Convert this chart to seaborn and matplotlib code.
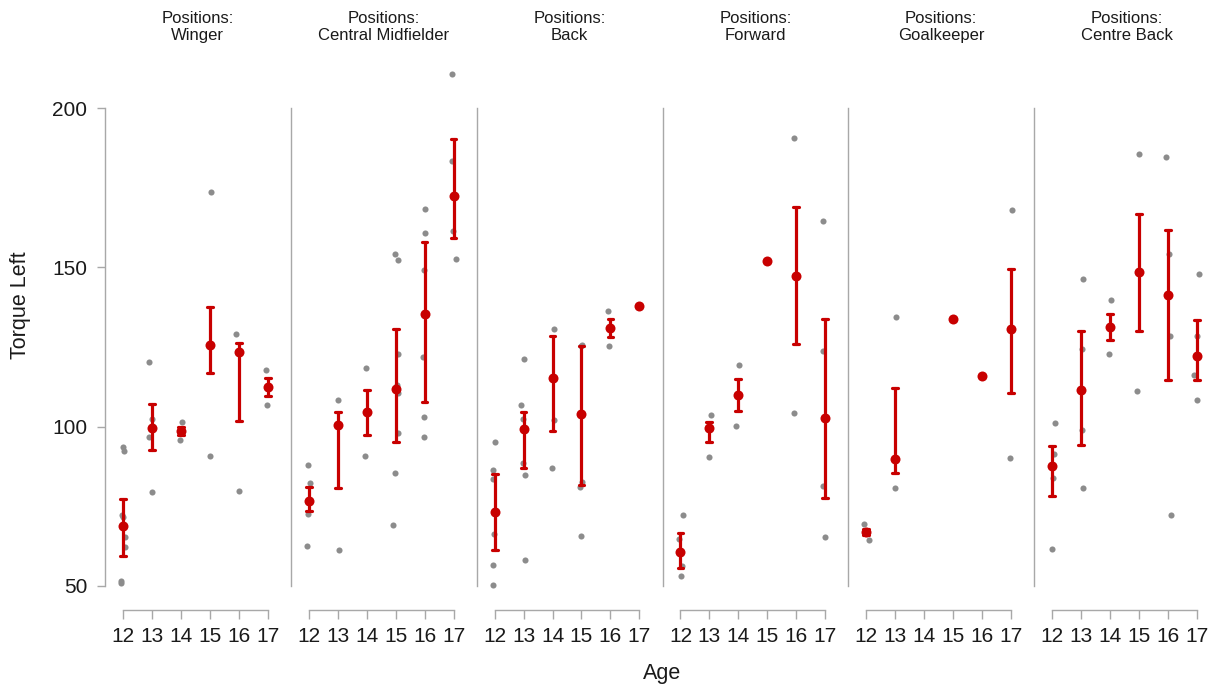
import numpy as np
import pandas as pd
import matplotlib
matplotlib.use("Agg")
import matplotlib.pyplot as plt
import seaborn as sns

# ---------------- data ----------------
positions = ["Winger", "Central Midfielder", "Back", "Forward", "Goalkeeper", "Centre Back"]
ages = ["12", "13", "14", "15", "16", "17"]

# individual observations (grey dots), per position, keyed by age
winger_pts = {"12": [93.6, 92.2, 72.3, 71.6, 65.5, 62.2, 51.4, 50.9], "13": [120.3, 102.5, 96.7, 79.5],
              "14": [101.3, 95.9], "15": [173.6, 90.9], "16": [129.1, 79.7], "17": [117.9, 106.9]}
midfielder_pts = {"12": [87.8, 82.4, 72.7, 62.4], "13": [108.4, 61.3], "14": [118.4, 90.7],
                  "15": [154.1, 152.3, 122.9, 113.2, 110.5, 98.1, 85.3, 69.2],
                  "16": [168.2, 160.8, 149.1, 121.9, 103.1, 96.8], "17": [210.8, 183.5, 161.4, 152.7]}
back_pts = {"12": [95.1, 86.5, 83.7, 66.2, 56.5, 50.2], "13": [121.3, 106.7, 102.4, 88.6, 84.9, 58.1],
            "14": [130.5, 102.2, 87.0], "15": [125.5, 125.2, 82.5, 81.1, 65.7], "16": [136.4, 125.3], "17": []}
forward_pts = {"12": [72.2, 64.8, 56.2, 53.0], "13": [103.7, 90.6], "14": [119.5, 100.2], "15": [],
               "16": [190.6, 104.3], "17": [164.5, 123.6, 81.4, 65.5]}
goalkeeper_pts = {"12": [69.4, 64.4], "13": [134.3, 80.7], "14": [], "15": [], "16": [], "17": [168.0, 90.3]}
centreback_pts = {"12": [101.2, 91.4, 83.8, 61.7], "13": [146.5, 124.3, 99.0, 80.6], "14": [139.7, 122.7],
                  "15": [185.6, 111.3], "16": [184.5, 154.1, 128.3, 72.4], "17": [148.0, 128.6, 116.1, 108.3]}

nan = np.nan
# group means and error-bar limits (red)
winger_mean = [68.7, 99.7, 98.6, 125.6, 123.5, 112.5]
winger_hi = [77.4, 107.2, 99.9, 137.6, 126.4, 115.3]
winger_lo = [59.5, 92.6, 97.3, 116.7, 101.7, 109.6]

midfielder_mean = [76.7, 100.6, 104.6, 111.9, 135.4, 172.4]
midfielder_hi = [81.0, 104.6, 111.6, 130.5, 157.9, 190.3]
midfielder_lo = [73.4, 80.8, 97.5, 95.1, 107.6, 159.1]

back_mean = [73.3, 99.4, 115.2, 104.0, 131.0, 137.9]
back_hi = [85.1, 104.5, 128.6, 125.3, 133.7, nan]
back_lo = [61.3, 86.9, 98.5, 81.7, 128.1, nan]

forward_mean = [60.5, 99.6, 110.0, 151.9, 147.4, 102.6]
forward_hi = [66.7, 101.6, 114.8, nan, 169.0, 133.8]
forward_lo = [55.5, 95.1, 105.0, nan, 125.8, 77.5]

goalkeeper_mean = [66.8, 89.9, nan, 133.8, 115.8, 130.8]
goalkeeper_hi = [67.8, 112.2, nan, nan, nan, 149.4]
goalkeeper_lo = [65.9, 85.3, nan, nan, nan, 110.6]

centreback_mean = [87.7, 111.6, 131.3, 148.5, 141.3, 122.3]
centreback_hi = [93.8, 130.0, 135.5, 166.9, 161.7, 133.6]
centreback_lo = [78.3, 94.3, 127.1, 130.0, 114.5, 114.5]

points_by_pos = [winger_pts, midfielder_pts, back_pts, forward_pts, goalkeeper_pts, centreback_pts]
means_by_pos = [(winger_mean, winger_lo, winger_hi), (midfielder_mean, midfielder_lo, midfielder_hi),
                (back_mean, back_lo, back_hi), (forward_mean, forward_lo, forward_hi),
                (goalkeeper_mean, goalkeeper_lo, goalkeeper_hi), (centreback_mean, centreback_lo, centreback_hi)]

y_ticks = [50, 100, 150, 200]

# ---------------- style ----------------
sns.set_style("white")
plt.rcParams["font.family"] = ["Liberation Sans", "DejaVu Sans"]
RED = "#c80000"
GREY = "#8c8c8c"
SPINE = "#a8a8a8"
TXT = "#1a1a1a"

W, H = 1220, 688
fig = plt.figure(figsize=(W / 100, H / 100), dpi=100)
np.random.seed(3)

left_px, top_px, bottom_px = 105, 60, 598
panel_w = (W - left_px) / 6.0
ylim = (46.2, 215.1)

for i, pos in enumerate(positions):
    ax = fig.add_axes([(left_px + i * panel_w) / W, 1 - bottom_px / H,
                       panel_w / W, (bottom_px - top_px) / H])
    # raw points
    rows = [(a, v) for a in ages for v in points_by_pos[i][a]]
    df = pd.DataFrame(rows, columns=["Age", "Torque"])
    sns.stripplot(data=df, x="Age", y="Torque", order=ages, color=GREY, size=4.4,
                  jitter=0.1, linewidth=0, ax=ax, zorder=1)
    # means with error bars (median of [lo, mean, hi] = mean; min..max = bar)
    m, lo, hi = means_by_pos[i]
    mrows = []
    for a, mv, l, h in zip(ages, m, lo, hi):
        for v in (l, mv, h):
            if not np.isnan(v):
                mrows.append((a, v))
    mdf = pd.DataFrame(mrows, columns=["Age", "Torque"])
    sns.pointplot(data=mdf, x="Age", y="Torque", order=ages, estimator="median",
                  errorbar=("pi", 100), color=RED, linestyle="none", marker="o",
                  markersize=7.2, markeredgewidth=0, capsize=0.2,
                  err_kws={"linewidth": 2.3}, ax=ax, zorder=3)

    ax.set_xlim(-0.62, 5.8)
    ax.set_ylim(*ylim)
    ax.set_xlabel("")
    ax.set_ylabel("")
    ax.set_xticks(range(len(ages)))
    ax.set_xticklabels(ages)
    for s in ("top", "right"):
        ax.spines[s].set_visible(False)
    ax.spines["left"].set_bounds(y_ticks[0], y_ticks[-1])
    ax.spines["left"].set_color(SPINE)
    ax.spines["left"].set_linewidth(1.0)
    ax.spines["bottom"].set_bounds(0, len(ages) - 1)
    ax.spines["bottom"].set_position(("outward", 8.6))
    ax.spines["bottom"].set_color(SPINE)
    ax.spines["bottom"].set_linewidth(1.0)
    ax.tick_params(axis="x", direction="out", length=6.5, width=1.0, color=SPINE,
                   labelsize=15, labelcolor=TXT, pad=5.5, bottom=True)
    ax.set_yticks(y_ticks)
    if i == 0:
        ax.tick_params(axis="y", direction="out", length=5.8, width=1.0, color=SPINE,
                       labelsize=15, labelcolor=TXT, pad=7, left=True)
    else:
        ax.tick_params(axis="y", left=False, labelleft=False)
    ax.set_title("Positions:\n" + pos, fontsize=12, color=TXT, pad=14.4, linespacing=1.15)

fig.text(21 / W, 1 - 305 / H, "Torque Left", rotation=90, ha="center", va="center",
         fontsize=15.5, color=TXT)
fig.text((left_px + W) / 2 / W, 1 - 673 / H, "Age", ha="center", va="center",
         fontsize=15.5, color=TXT)

fig.savefig("out.png", dpi=100)
